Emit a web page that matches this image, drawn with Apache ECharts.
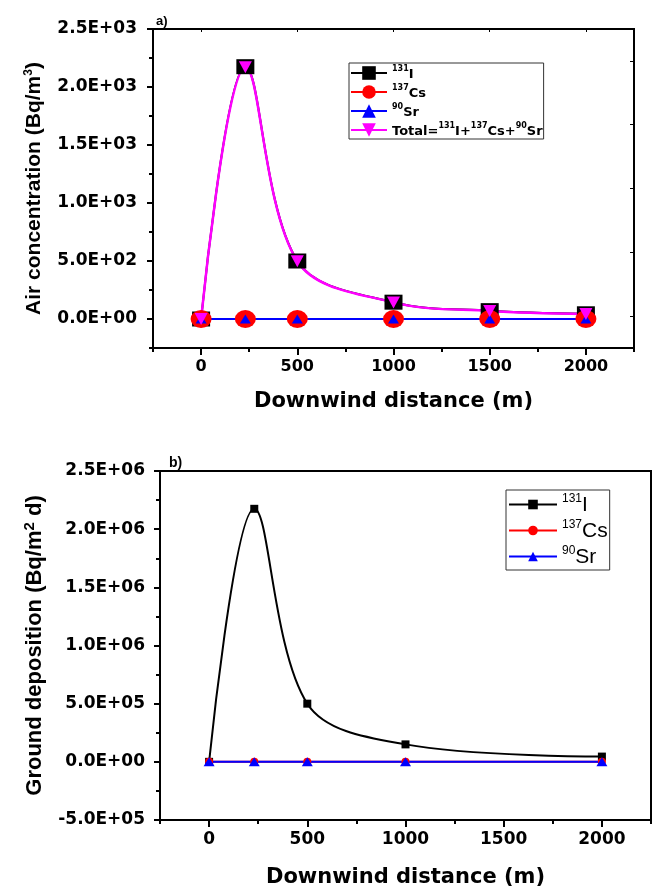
<!DOCTYPE html>
<html>
<head>
<meta charset="utf-8">
<script src="https://cdn.jsdelivr.net/npm/echarts@6/dist/echarts.min.js"></script>
<style>
  html, body { margin: 0; padding: 0; background: #fff; }
  #chart { width: 656px; height: 891px; }
</style>
</head>
<body>
<div id="chart"></div>
<script>
// panel a) air concentration
var distA = [0, 230, 500, 1000, 1500, 2000];
var airI131 = [0, 2175, 500, 145, 72, 45];
var airCs137 = [0, 0, 0, 0, 0, 0];
var airSr90 = [0, 0, 0, 0, 0, 0];
var airTotal = [0, 2170, 498, 143, 70, 43];

// panel b) ground deposition
var distB = [0, 230, 500, 1000, 2000];
var depI131 = [0, 2.175e6, 5.0e5, 1.5e5, 4.5e4];
var depCs137 = [0, 0, 0, 0, 0];
var depSr90 = [0, 0, 0, 0, 0];

// tick labels
var xTicks = [0, 500, 1000, 1500, 2000];
var yTicksA = [0, 500, 1000, 1500, 2000, 2500];
var yLabelsA = ['0.0E+00', '5.0E+02', '1.0E+03', '1.5E+03', '2.0E+03', '2.5E+03'];
var yTicksB = [-5e5, 0, 5e5, 1e6, 1.5e6, 2e6, 2.5e6];
var yLabelsB = ['-5.0E+05', '0.0E+00', '5.0E+05', '1.0E+06', '1.5E+06', '2.0E+06', '2.5E+06'];

function pairs(xs, ys) {
  return xs.map(function (x, i) { return [x, ys[i]]; });
}

var tickFont = { fontFamily: 'DejaVu Sans', fontWeight: 'bold', color: '#000' };
var black = { color: '#000', width: 2 };
var plain = function (v) { return String(v); };
var SMOOTH = 0.35;

var legendA = {
  '131I': '{s|131}{t|I}',
  '137Cs': '{s|137}{t|Cs}',
  '90Sr': '{s|90}{t|Sr}',
  'Total': '{t|Total=}{s|131}{t|I+}{s|137}{t|Cs+}{s|90}{t|Sr}'
};
var legendB = {
  '131I ': '{s|131}{t|I}',
  '137Cs ': '{s|137}{t|Cs}',
  '90Sr ': '{s|90}{t|Sr}'
};

var myChart = echarts.init(document.getElementById('chart'));

myChart.setOption({
  animation: false,
  backgroundColor: '#fff',
  title: [
    { text: 'a)', left: 151, top: 10, textStyle: { fontFamily: 'Liberation Sans', fontWeight: 'bold', fontSize: 13, color: '#000' } },
    { text: 'b)', left: 164, top: 451, textStyle: { fontFamily: 'Liberation Sans', fontWeight: 'bold', fontSize: 14, color: '#000' } }
  ],
  grid: [
    { left: 153, top: 29, width: 481, height: 319, show: true, borderColor: '#000', borderWidth: 2 },
    { left: 160, top: 471, width: 491, height: 349, show: true, borderColor: '#000', borderWidth: 2 }
  ],
  legend: [
    {
      left: 349, top: 63,
      orient: 'vertical',
      itemWidth: 36, itemHeight: 17, itemGap: 3,
      padding: [2, 1, 1, 1],
      borderColor: '#333', borderWidth: 1,
      data: ['131I', '137Cs', '90Sr', 'Total'],
      formatter: function (name) { return legendA[name]; },
      textStyle: {
        rich: {
          s: { fontFamily: 'DejaVu Sans', fontWeight: 'bold', fontSize: 8, lineHeight: 16, verticalAlign: 'top', color: '#000' },
          t: { fontFamily: 'DejaVu Sans', fontWeight: 'bold', fontSize: 13, lineHeight: 16, verticalAlign: 'bottom', color: '#000' }
        }
      }
    },
    {
      left: 506, top: 490,
      orient: 'vertical',
      itemWidth: 48, itemHeight: 12, itemGap: 3,
      padding: [3, 2, 2, 2],
      borderColor: '#333', borderWidth: 1,
      data: ['131I ', '137Cs ', '90Sr '],
      formatter: function (name) { return legendB[name]; },
      textStyle: {
        rich: {
          s: { fontFamily: 'Liberation Sans', fontSize: 12, lineHeight: 23, verticalAlign: 'top', color: '#000' },
          t: { fontFamily: 'Liberation Sans', fontSize: 21, lineHeight: 23, verticalAlign: 'bottom', color: '#000' }
        }
      }
    }
  ],
  xAxis: [
    {
      gridIndex: 0, type: 'value', min: -250, max: 2250, position: 'bottom',
      name: 'Downwind distance (m)', nameLocation: 'middle', nameGap: 43,
      nameTextStyle: { fontFamily: 'DejaVu Sans', fontWeight: 'bold', fontSize: 21, color: '#000' },
      axisLine: { onZero: false, lineStyle: black },
      axisTick: { customValues: xTicks, length: 7, lineStyle: black },
      axisLabel: Object.assign({ customValues: xTicks, fontSize: 16, margin: 11, formatter: plain }, tickFont),
      splitLine: { show: false }
    },
    {
      gridIndex: 0, type: 'value', min: -250, max: 2250, interval: 250, position: 'bottom',
      axisLine: { show: false, onZero: false },
      axisTick: { length: 4, lineStyle: black },
      axisLabel: { show: false },
      splitLine: { show: false }
    },
    {
      gridIndex: 0, type: 'value', min: -250, max: 2250, position: 'top',
      axisLine: { show: false, onZero: false },
      axisTick: { customValues: xTicks, inside: true, length: 3, lineStyle: { color: '#000', width: 1 } },
      axisLabel: { show: false },
      splitLine: { show: false }
    },
    {
      gridIndex: 1, type: 'value', min: -250, max: 2250, position: 'bottom',
      name: 'Downwind distance (m)', nameLocation: 'middle', nameGap: 47,
      nameTextStyle: { fontFamily: 'DejaVu Sans', fontWeight: 'bold', fontSize: 21, color: '#000' },
      axisLine: { onZero: false, lineStyle: black },
      axisTick: { customValues: xTicks, length: 7, lineStyle: black },
      axisLabel: Object.assign({ customValues: xTicks, fontSize: 17, margin: 11, formatter: plain }, tickFont),
      splitLine: { show: false }
    },
    {
      gridIndex: 1, type: 'value', min: -250, max: 2250, interval: 250, position: 'bottom',
      axisLine: { show: false, onZero: false },
      axisTick: { length: 4, lineStyle: black },
      axisLabel: { show: false },
      splitLine: { show: false }
    }
  ],
  yAxis: [
    {
      gridIndex: 0, type: 'value', min: -250, max: 2500, position: 'left',
      name: 'Air concentration (Bq/m{s|3})', nameLocation: 'middle', nameGap: 108,
      nameTextStyle: {
        fontFamily: 'Liberation Sans', fontWeight: 'bold', fontSize: 21, color: '#000',
        rich: {
          s: { fontFamily: 'Liberation Sans', fontWeight: 'bold', fontSize: 12, verticalAlign: 'top', lineHeight: 22, color: '#000' }
        }
      },
      axisLine: { onZero: false, lineStyle: black },
      axisTick: { customValues: yTicksA, length: 6, lineStyle: black },
      axisLabel: Object.assign({
        customValues: yTicksA, fontSize: 17, margin: 16,
        formatter: function (v) { return yLabelsA[yTicksA.indexOf(v)]; }
      }, tickFont),
      splitLine: { show: false }
    },
    {
      gridIndex: 0, type: 'value', min: -250, max: 2500, interval: 250, position: 'left',
      axisLine: { show: false, onZero: false },
      axisTick: { length: 4, lineStyle: black },
      axisLabel: { show: false },
      splitLine: { show: false }
    },
    {
      gridIndex: 0, type: 'value', min: 0, max: 10, position: 'right',
      axisLine: { show: false, onZero: false },
      axisTick: { customValues: [1, 3, 5, 7, 9], inside: true, length: 4, lineStyle: { color: '#000', width: 1 } },
      axisLabel: { show: false },
      splitLine: { show: false }
    },
    {
      gridIndex: 1, type: 'value', min: -5e5, max: 2.5e6, interval: 5e5, position: 'left',
      name: 'Ground deposition (Bq/m{s|2} d)', nameLocation: 'middle', nameGap: 112,
      nameTextStyle: {
        fontFamily: 'Liberation Sans', fontWeight: 'bold', fontSize: 22, color: '#000',
        rich: {
          s: { fontFamily: 'Liberation Sans', fontWeight: 'bold', fontSize: 15, verticalAlign: 'top', lineHeight: 26, color: '#000' }
        }
      },
      axisLine: { onZero: false, lineStyle: black },
      axisTick: { length: 6, lineStyle: black },
      minorTick: { show: true, splitNumber: 2, length: 4, lineStyle: black },
      axisLabel: Object.assign({
        fontSize: 17, margin: 15,
        formatter: function (v) { return yLabelsB[yTicksB.indexOf(v)]; }
      }, tickFont),
      splitLine: { show: false }
    }
  ],
  series: [
    {
      name: '131I', type: 'line', xAxisIndex: 0, yAxisIndex: 0, smooth: SMOOTH,
      data: pairs(distA, airI131),
      symbol: 'rect', symbolSize: [18, 15],
      itemStyle: { color: '#000' }, lineStyle: { color: '#000', width: 2 }
    },
    {
      name: '137Cs', type: 'line', xAxisIndex: 0, yAxisIndex: 0, smooth: SMOOTH,
      data: pairs(distA, airCs137),
      symbol: 'circle', symbolSize: [21, 18],
      itemStyle: { color: '#ff0000' }, lineStyle: { color: '#ff0000', width: 2 }
    },
    {
      name: '90Sr', type: 'line', xAxisIndex: 0, yAxisIndex: 0, smooth: SMOOTH,
      data: pairs(distA, airSr90),
      symbol: 'triangle', symbolSize: [11, 9],
      itemStyle: { color: '#0000ff' }, lineStyle: { color: '#0000ff', width: 2 }
    },
    {
      name: 'Total', type: 'line', xAxisIndex: 0, yAxisIndex: 0, smooth: SMOOTH,
      data: pairs(distA, airTotal),
      symbol: 'triangle', symbolRotate: 180, symbolSize: [13, 12],
      itemStyle: { color: '#ff00ff' }, lineStyle: { color: '#ff00ff', width: 2.5 }
    },
    {
      name: '131I ', type: 'line', xAxisIndex: 3, yAxisIndex: 3, smooth: SMOOTH,
      data: pairs(distB, depI131),
      symbol: 'rect', symbolSize: 8,
      itemStyle: { color: '#000' }, lineStyle: { color: '#000', width: 2 }
    },
    {
      name: '137Cs ', type: 'line', xAxisIndex: 3, yAxisIndex: 3, smooth: SMOOTH,
      data: pairs(distB, depCs137),
      symbol: 'circle', symbolSize: 8,
      itemStyle: { color: '#ff0000' }, lineStyle: { color: '#ff0000', width: 2 }
    },
    {
      name: '90Sr ', type: 'line', xAxisIndex: 3, yAxisIndex: 3, smooth: SMOOTH,
      data: pairs(distB, depSr90),
      symbol: 'triangle', symbolSize: [11, 9],
      itemStyle: { color: '#0000ff' }, lineStyle: { color: '#0000ff', width: 2 }
    }
  ]
});
</script>
</body>
</html>
